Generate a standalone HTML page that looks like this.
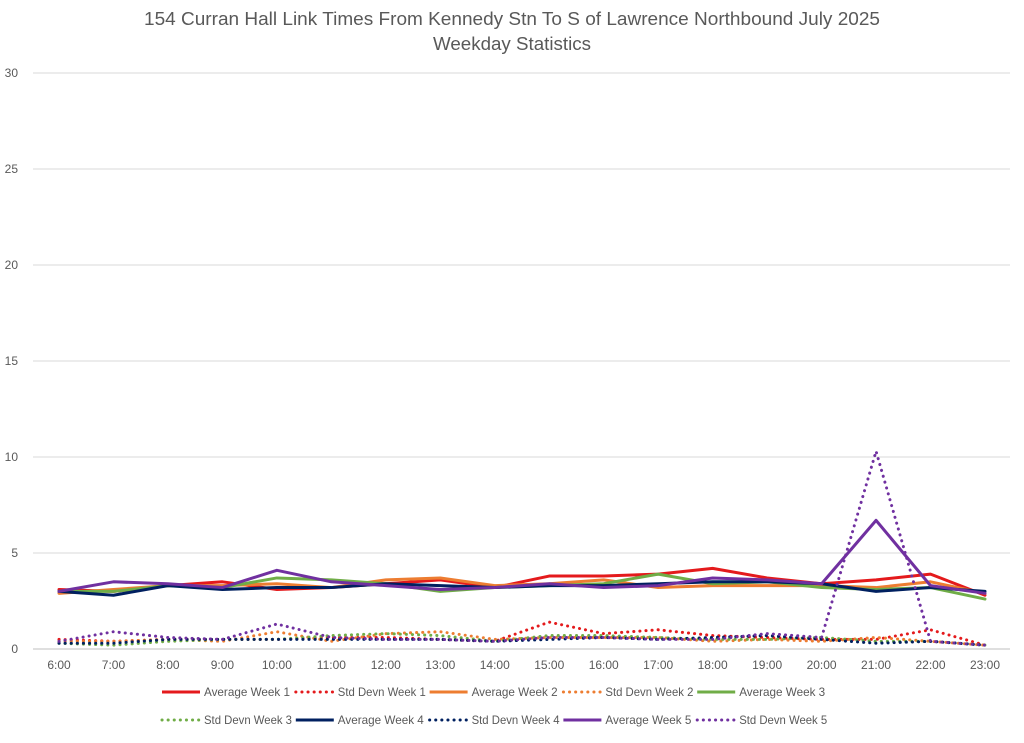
<!DOCTYPE html>
<html><head><meta charset="utf-8"><style>
body{margin:0;background:#fff;font-family:"Liberation Sans",sans-serif;}
</style></head><body>
<svg id="c" width="1024" height="738" xmlns="http://www.w3.org/2000/svg">
<text x="512" y="25" text-anchor="middle" font-size="18" fill="#595959" textLength="736" lengthAdjust="spacingAndGlyphs">154 Curran Hall Link Times From Kennedy Stn To S of Lawrence Northbound July 2025</text>
<text x="512" y="50" text-anchor="middle" font-size="18" fill="#595959" textLength="158" lengthAdjust="spacingAndGlyphs">Weekday Statistics</text>
<g id="grid"></g><g id="series"></g><g id="legend"></g>
</svg>
<script>
const categories=["6:00","7:00","8:00","9:00","10:00","11:00","12:00","13:00","14:00","15:00","16:00","17:00","18:00","19:00","20:00","21:00","22:00","23:00"];
const yTicks=[0,5,10,15,20,25,30];
const avgWeek1=[3.1,3.0,3.3,3.5,3.1,3.2,3.4,3.6,3.2,3.8,3.8,3.9,4.2,3.7,3.4,3.6,3.9,2.8];
const sdWeek1=[0.5,0.4,0.5,0.5,0.5,0.6,0.6,0.5,0.4,1.4,0.8,1.0,0.7,0.6,0.5,0.5,1.0,0.2];
const avgWeek2=[2.9,3.1,3.3,3.3,3.4,3.2,3.6,3.7,3.3,3.4,3.6,3.2,3.3,3.3,3.3,3.2,3.5,2.9];
const sdWeek2=[0.4,0.4,0.5,0.4,0.9,0.4,0.8,0.9,0.5,0.6,0.6,0.6,0.4,0.5,0.4,0.6,0.4,0.2];
const avgWeek3=[3.0,3.0,3.3,3.2,3.7,3.6,3.4,3.0,3.2,3.3,3.4,3.9,3.4,3.5,3.2,3.1,3.2,2.6];
const sdWeek3=[0.3,0.2,0.4,0.5,0.5,0.7,0.8,0.7,0.4,0.7,0.7,0.6,0.5,0.5,0.6,0.4,0.4,0.2];
const avgWeek4=[3.0,2.8,3.3,3.1,3.2,3.2,3.4,3.3,3.2,3.3,3.3,3.4,3.5,3.5,3.4,3.0,3.2,3.0];
const sdWeek4=[0.3,0.3,0.5,0.5,0.5,0.5,0.5,0.5,0.4,0.5,0.6,0.5,0.6,0.7,0.5,0.3,0.4,0.2];
const avgWeek5=[3.0,3.5,3.4,3.2,4.1,3.5,3.3,3.1,3.2,3.4,3.2,3.3,3.7,3.6,3.4,6.7,3.3,2.9];
const sdWeek5=[0.4,0.9,0.6,0.5,1.3,0.6,0.5,0.5,0.4,0.6,0.6,0.5,0.5,0.8,0.6,10.3,0.4,0.2];

const NS="http://www.w3.org/2000/svg";
const X0=59,X1=985,Y0=649,Y1=73,YMAX=30;
const xs=i=>X0+i*(X1-X0)/(categories.length-1);
const ys=v=>Y0-v*(Y0-Y1)/YMAX;
function mk(t,a,p){const e=document.createElementNS(NS,t);for(const k in a)e.setAttribute(k,a[k]);p.appendChild(e);return e;}
const grid=document.getElementById('grid');
yTicks.forEach(v=>{
  const l=mk('line',{x1:33,x2:1010,y1:ys(v),y2:ys(v),stroke:v===0?'#bfbfbf':'#d9d9d9','stroke-width':1},grid);
  
  
  const t=mk('text',{x:18,y:ys(v)+4,'text-anchor':'end','font-size':12,fill:'#595959'},grid);
  t.textContent=v;
  
  
});
categories.forEach((c,i)=>{
  const t=mk('text',{x:xs(i),y:669,'text-anchor':'middle','font-size':12,fill:'#595959'},grid);
  t.textContent=c;
  
  
});
function straight(d){return d.map((v,i)=>(i?'L':'M')+xs(i)+','+ys(v)).join(' ');}
const series=[
 ["Average Week 1",avgWeek1,"#e41a1c",false],["Std Devn Week 1",sdWeek1,"#e41a1c",true],
 ["Average Week 2",avgWeek2,"#ed7d31",false],["Std Devn Week 2",sdWeek2,"#ed7d31",true],
 ["Average Week 3",avgWeek3,"#70ad47",false],["Std Devn Week 3",sdWeek3,"#70ad47",true],
 ["Average Week 4",avgWeek4,"#002060",false],["Std Devn Week 4",sdWeek4,"#002060",true],
 ["Average Week 5",avgWeek5,"#7030a0",false],["Std Devn Week 5",sdWeek5,"#7030a0",true]];
const sg=document.getElementById('series'),lg=document.getElementById('legend');
series.forEach(([n,d,col,dot],k)=>{
  const p=mk('path',{d:straight(d),fill:'none',stroke:col,'stroke-width':3,'stroke-linejoin':'round','stroke-linecap':'round','stroke-dasharray':dot?'0.1 6':'none'},sg);
  
  
  const r=Math.floor(k/5),c=k%5,lx=160+c*133.8,ly=692+r*28;
  const g=mk('g',{},lg);
  
  
  mk('line',{x1:lx+2,x2:lx+40,y1:ly,y2:ly,stroke:col,'stroke-width':3,'stroke-linecap':dot?'round':'butt','stroke-dasharray':dot?'0.1 6':'none'},g);
  const t=mk('text',{x:lx+44,y:ly+4,'font-size':12,fill:'#595959',textLength:dot?88:86,lengthAdjust:'spacingAndGlyphs'},g);t.textContent=n;
});
</script>
</body></html>
